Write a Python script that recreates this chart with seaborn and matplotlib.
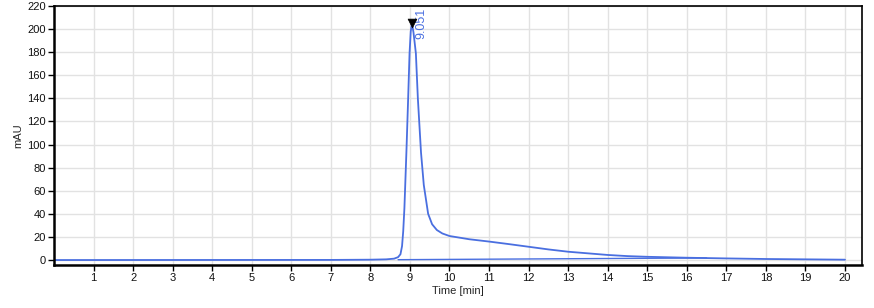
import matplotlib
matplotlib.use("Agg")
import matplotlib.pyplot as plt
import seaborn as sns
import pandas as pd

# Chromatogram signal
time_min = [0.0, 7.0, 8.0, 8.4, 8.6, 8.7, 8.76, 8.8, 8.83, 8.86, 8.91, 8.95, 8.99, 9.02,
            9.051, 9.09, 9.15, 9.2, 9.28, 9.35, 9.46, 9.56, 9.68, 9.82, 10.0, 10.5,
            11.0, 11.5, 12.0, 12.5, 13.0, 13.5, 14.0, 14.5, 15.0, 16.0, 17.0, 18.0,
            19.0, 20.0]
signal_mau = [0.0, 0.1, 0.3, 0.6, 1.2, 2.5, 5.0, 12.0, 25.0, 45.0, 93.0, 135.0, 179.0, 198.0,
              205.0, 197.0, 179.0, 140.0, 93.0, 65.0, 40.0, 31.0, 26.0, 23.0, 20.8, 18.0,
              16.0, 13.8, 11.5, 9.2, 7.2, 5.8, 4.4, 3.4, 2.8, 2.0, 1.4, 0.9,
              0.6, 0.3]

# Integration baseline
baseline_time = [8.7, 16.5]
baseline_mau = [0.3, 1.8]

# Peak annotation
peak_time = [9.051]
peak_mau = [205.0]
peak_label = ["9.051"]

x_ticks = list(range(1, 21))
y_ticks = list(range(0, 221, 20))

sns.set_theme(style="white")
plt.rcParams['font.family'] = ['Liberation Sans', 'DejaVu Sans']

fig = plt.figure(figsize=(8.74, 3.08), dpi=100)
ax = fig.add_axes([54 / 874, 1 - 265 / 308, (862 - 54) / 874, (265 - 6) / 308])

blue = "#4a6fe0"
df = pd.DataFrame({"t": time_min, "v": signal_mau})
sns.lineplot(data=df, x="t", y="v", ax=ax, color=blue, linewidth=1.3, sort=False)
dfb = pd.DataFrame({"t": baseline_time, "v": baseline_mau})
sns.lineplot(data=dfb, x="t", y="v", ax=ax, color=blue, linewidth=1.0, sort=False)

dfp = pd.DataFrame({"t": peak_time, "v": peak_mau})
sns.scatterplot(data=dfp, x="t", y="v", ax=ax, marker="v", color="black", s=40,
                edgecolor="black", zorder=5)
for t, v, lab in zip(peak_time, peak_mau, peak_label):
    ax.text(t + 0.23, v - 14, lab, rotation=90, color=blue, fontsize=9,
            ha="left", va="center", rotation_mode="anchor")

ax.set_xlim(0, 20.43)
ax.set_ylim(-4.3, 220)
ax.set_xticks(x_ticks)
ax.set_yticks(y_ticks)
ax.grid(True, color="#e2e2e2", linewidth=1.0)
ax.set_axisbelow(True)

ax.tick_params(axis="both", which="both", direction="out", length=4, width=1,
               color="black", labelsize=8, pad=2, labelcolor="#111111")
ax.tick_params(left=True, bottom=True)
ax.set_xlabel("Time [min]", fontsize=8, labelpad=2)
ax.set_ylabel("mAU", fontsize=8, labelpad=3)

for side in ["left", "bottom"]:
    ax.spines[side].set_color("black")
    ax.spines[side].set_linewidth(1.8)
for side in ["top", "right"]:
    ax.spines[side].set_color("black")
    ax.spines[side].set_linewidth(1.2)

fig.savefig("out.png", dpi=100)
